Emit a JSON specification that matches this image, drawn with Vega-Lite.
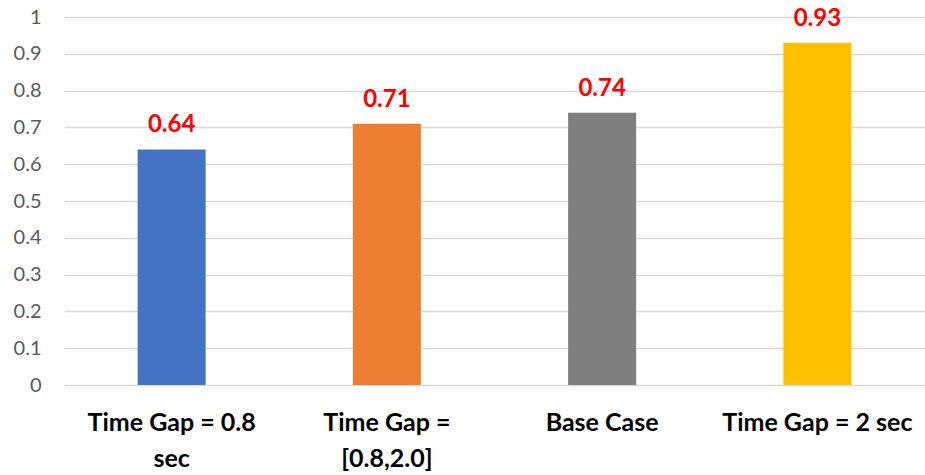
{
  "$schema": "https://vega.github.io/schema/vega-lite/v6.json",
  "width": 861,
  "height": 368,
  "autosize": {"type": "none"},
  "padding": {"left": 64, "top": 17, "right": 0, "bottom": 90},
  "background": "white",
  "config": {
    "view": {"stroke": null},
    "font": "Lato"
  },
  "data": {
    "values": [
      {"scenario": "Time Gap = 0.8 sec", "value": 0.64, "color": "#4472C4"},
      {"scenario": "Time Gap = [0.8,2.0]", "value": 0.71, "color": "#ED7D31"},
      {"scenario": "Base Case", "value": 0.74, "color": "#7F7F7F"},
      {"scenario": "Time Gap = 2 sec", "value": 0.93, "color": "#FFC000"}
    ]
  },
  "encoding": {
    "x": {
      "field": "scenario",
      "type": "nominal",
      "sort": null,
      "scale": {"paddingInner": 0.684, "paddingOuter": 0.342},
      "axis": {
        "title": null,
        "domain": false,
        "ticks": false,
        "labelAngle": 0,
        "labelFont": "Lato",
        "labelFontWeight": "bold",
        "labelFontSize": 25,
        "labelColor": "#000000",
        "labelPadding": 25,
        "labelLineHeight": 36,
        "labelLimit": 400,
        "labelOverlap": false,
        "labelExpr": "datum.label == 'Time Gap = 0.8 sec' ? ['Time Gap = 0.8', 'sec'] : datum.label == 'Time Gap = [0.8,2.0]' ? ['Time Gap =', '[0.8,2.0]'] : datum.label"
      }
    },
    "y": {
      "field": "value",
      "type": "quantitative",
      "scale": {"domain": [0, 1]},
      "axis": {
        "title": null,
        "domain": false,
        "ticks": false,
        "values": [0, 0.1, 0.2, 0.3, 0.4, 0.5, 0.6, 0.7, 0.8, 0.9, 1],
        "labelExpr": "datum.value == 0 ? '0' : datum.value == 1 ? '1' : format(datum.value, '.1f')",
        "labelFont": "Lato",
        "labelFontSize": 20,
        "labelColor": "#595959",
        "labelPadding": 23,
        "grid": true,
        "gridColor": "#D9D9D9",
        "gridWidth": 1.5
      }
    }
  },
  "layer": [
    {
      "mark": {"type": "bar"},
      "encoding": {
        "color": {"field": "color", "type": "nominal", "scale": null}
      }
    },
    {
      "mark": {
        "type": "text",
        "baseline": "bottom",
        "dy": -12,
        "font": "Lato",
        "fontWeight": "bold",
        "fontSize": 24,
        "color": "#FF0000"
      },
      "encoding": {
        "text": {"field": "value", "type": "quantitative", "format": ".2f"}
      }
    }
  ]
}
